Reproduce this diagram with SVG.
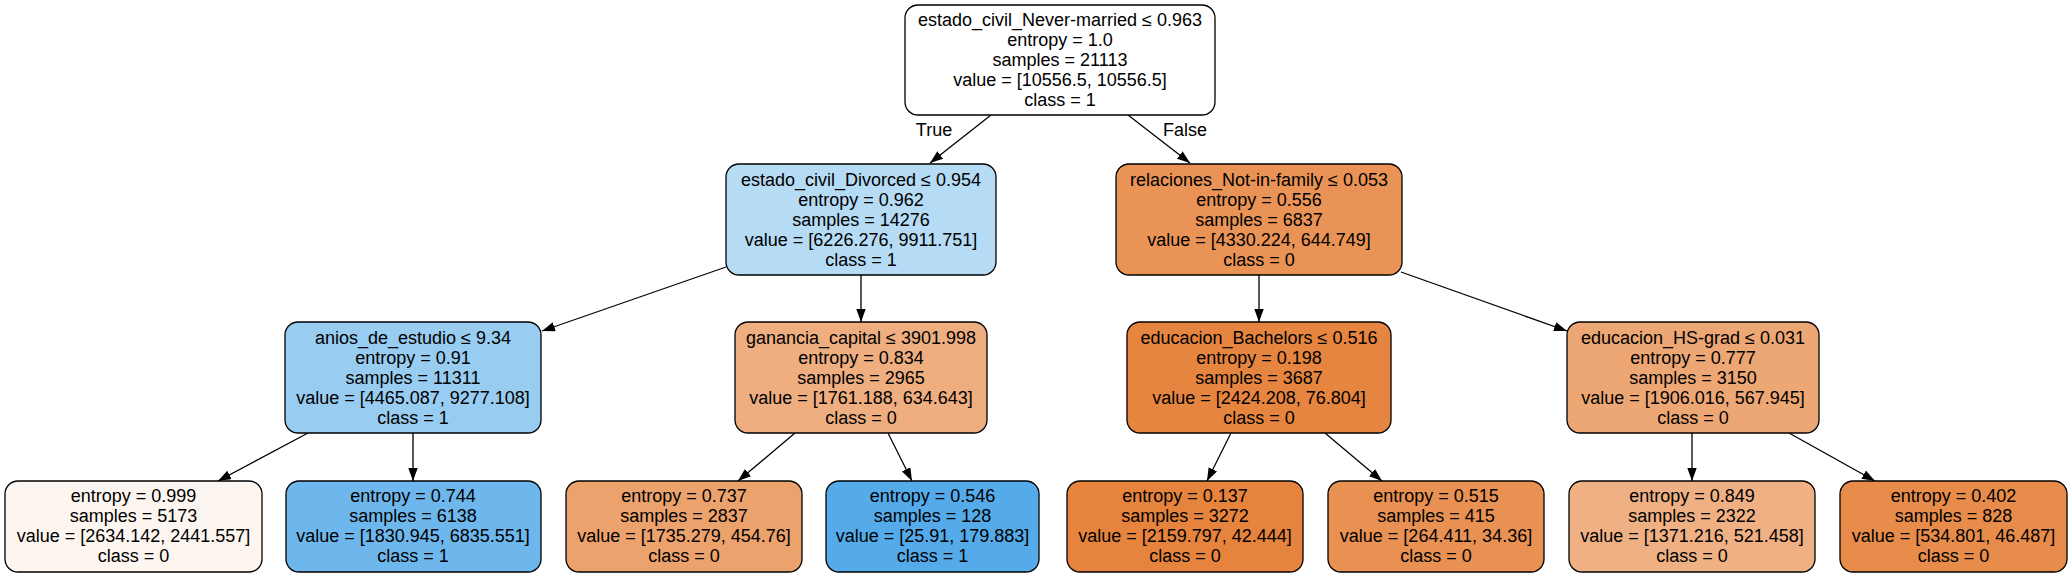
<svg xmlns="http://www.w3.org/2000/svg" width="2072" height="577" viewBox="0 0 2072 577">
<style>
.n{stroke:#000;stroke-width:1.3}
text{font-family:"Liberation Sans",Arial,sans-serif;font-size:18px;fill:#000;text-anchor:middle}
.e{stroke:#000;stroke-width:1.3;fill:none;marker-end:url(#ah)}
</style>
<defs>
<marker id="ah" markerUnits="userSpaceOnUse" markerWidth="14" markerHeight="10" refX="13" refY="4.7" orient="auto" viewBox="0 0 14 10">
<path d="M0,0 L13,4.7 L0,9.4 z" fill="#000"/>
</marker>
</defs>
<rect width="2072" height="577" fill="#fff"/>
<g id="edges">
<line class="e" x1="991" y1="115" x2="930" y2="163"/>
<line class="e" x1="1128" y1="115" x2="1190" y2="163"/>
<line class="e" x1="726" y1="267" x2="542" y2="331"/>
<line class="e" x1="861" y1="275" x2="861" y2="322"/>
<line class="e" x1="1259" y1="275" x2="1259" y2="322"/>
<line class="e" x1="1401" y1="272" x2="1567" y2="331"/>
<line class="e" x1="308" y1="433" x2="218" y2="481"/>
<line class="e" x1="413" y1="433" x2="413" y2="481"/>
<line class="e" x1="795" y1="433" x2="738" y2="481"/>
<line class="e" x1="888" y1="433" x2="912" y2="481"/>
<line class="e" x1="1231" y1="433" x2="1207" y2="481"/>
<line class="e" x1="1325" y1="433" x2="1382" y2="481"/>
<line class="e" x1="1692" y1="433" x2="1692" y2="481"/>
<line class="e" x1="1789" y1="433" x2="1875" y2="481"/>
<text x="934" y="136">True</text>
<text x="1185" y="136">False</text>
</g>
<g id="n0">
<rect class="n" x="905" y="5" width="310" height="110" rx="13" fill="#ffffff"/>
<text x="1060" y="26">estado_civil_Never-married ≤ 0.963</text>
<text x="1060" y="46">entropy = 1.0</text>
<text x="1060" y="66">samples = 21113</text>
<text x="1060" y="86">value = [10556.5, 10556.5]</text>
<text x="1060" y="106">class = 1</text>
</g>
<g id="n1">
<rect class="n" x="726" y="164" width="270" height="111" rx="13" fill="#b5dbf5"/>
<text x="861" y="185.5">estado_civil_Divorced ≤ 0.954</text>
<text x="861" y="205.5">entropy = 0.962</text>
<text x="861" y="225.5">samples = 14276</text>
<text x="861" y="245.5">value = [6226.276, 9911.751]</text>
<text x="861" y="265.5">class = 1</text>
</g>
<g id="n2">
<rect class="n" x="1116" y="164" width="286" height="111" rx="13" fill="#e99456"/>
<text x="1259" y="185.5">relaciones_Not-in-family ≤ 0.053</text>
<text x="1259" y="205.5">entropy = 0.556</text>
<text x="1259" y="225.5">samples = 6837</text>
<text x="1259" y="245.5">value = [4330.224, 644.749]</text>
<text x="1259" y="265.5">class = 0</text>
</g>
<g id="n3">
<rect class="n" x="285" y="322" width="256" height="111" rx="13" fill="#98ccf1"/>
<text x="413" y="343.5">anios_de_estudio ≤ 9.34</text>
<text x="413" y="363.5">entropy = 0.91</text>
<text x="413" y="383.5">samples = 11311</text>
<text x="413" y="403.5">value = [4465.087, 9277.108]</text>
<text x="413" y="423.5">class = 1</text>
</g>
<g id="n4">
<rect class="n" x="735" y="322" width="252" height="111" rx="13" fill="#eeae80"/>
<text x="861" y="343.5">ganancia_capital ≤ 3901.998</text>
<text x="861" y="363.5">entropy = 0.834</text>
<text x="861" y="383.5">samples = 2965</text>
<text x="861" y="403.5">value = [1761.188, 634.643]</text>
<text x="861" y="423.5">class = 0</text>
</g>
<g id="n5">
<rect class="n" x="1127" y="322" width="264" height="111" rx="13" fill="#e6853f"/>
<text x="1259" y="343.5">educacion_Bachelors ≤ 0.516</text>
<text x="1259" y="363.5">entropy = 0.198</text>
<text x="1259" y="383.5">samples = 3687</text>
<text x="1259" y="403.5">value = [2424.208, 76.804]</text>
<text x="1259" y="423.5">class = 0</text>
</g>
<g id="n6">
<rect class="n" x="1567" y="322" width="252" height="111" rx="13" fill="#eda774"/>
<text x="1693" y="343.5">educacion_HS-grad ≤ 0.031</text>
<text x="1693" y="363.5">entropy = 0.777</text>
<text x="1693" y="383.5">samples = 3150</text>
<text x="1693" y="403.5">value = [1906.016, 567.945]</text>
<text x="1693" y="423.5">class = 0</text>
</g>
<g id="n7">
<rect class="n" x="5" y="481" width="257" height="91" rx="13" fill="#fdf6f0"/>
<text x="133.5" y="502">entropy = 0.999</text>
<text x="133.5" y="522">samples = 5173</text>
<text x="133.5" y="542">value = [2634.142, 2441.557]</text>
<text x="133.5" y="562">class = 0</text>
</g>
<g id="n8">
<rect class="n" x="286" y="481" width="255" height="91" rx="13" fill="#6eb7ec"/>
<text x="413" y="502">entropy = 0.744</text>
<text x="413" y="522">samples = 6138</text>
<text x="413" y="542">value = [1830.945, 6835.551]</text>
<text x="413" y="562">class = 1</text>
</g>
<g id="n9">
<rect class="n" x="566" y="481" width="236" height="91" rx="13" fill="#eca26d"/>
<text x="684" y="502">entropy = 0.737</text>
<text x="684" y="522">samples = 2837</text>
<text x="684" y="542">value = [1735.279, 454.76]</text>
<text x="684" y="562">class = 0</text>
</g>
<g id="n10">
<rect class="n" x="826" y="481" width="213" height="91" rx="13" fill="#55abe9"/>
<text x="932.5" y="502">entropy = 0.546</text>
<text x="932.5" y="522">samples = 128</text>
<text x="932.5" y="542">value = [25.91, 179.883]</text>
<text x="932.5" y="562">class = 1</text>
</g>
<g id="n11">
<rect class="n" x="1067" y="481" width="236" height="91" rx="13" fill="#e6833d"/>
<text x="1185" y="502">entropy = 0.137</text>
<text x="1185" y="522">samples = 3272</text>
<text x="1185" y="542">value = [2159.797, 42.444]</text>
<text x="1185" y="562">class = 0</text>
</g>
<g id="n12">
<rect class="n" x="1328" y="481" width="216" height="91" rx="13" fill="#e89153"/>
<text x="1436" y="502">entropy = 0.515</text>
<text x="1436" y="522">samples = 415</text>
<text x="1436" y="542">value = [264.411, 34.36]</text>
<text x="1436" y="562">class = 0</text>
</g>
<g id="n13">
<rect class="n" x="1569" y="481" width="246" height="91" rx="13" fill="#efb184"/>
<text x="1692" y="502">entropy = 0.849</text>
<text x="1692" y="522">samples = 2322</text>
<text x="1692" y="542">value = [1371.216, 521.458]</text>
<text x="1692" y="562">class = 0</text>
</g>
<g id="n14">
<rect class="n" x="1840" y="481" width="227" height="91" rx="13" fill="#e78c4a"/>
<text x="1953.5" y="502">entropy = 0.402</text>
<text x="1953.5" y="522">samples = 828</text>
<text x="1953.5" y="542">value = [534.801, 46.487]</text>
<text x="1953.5" y="562">class = 0</text>
</g>
</svg>
